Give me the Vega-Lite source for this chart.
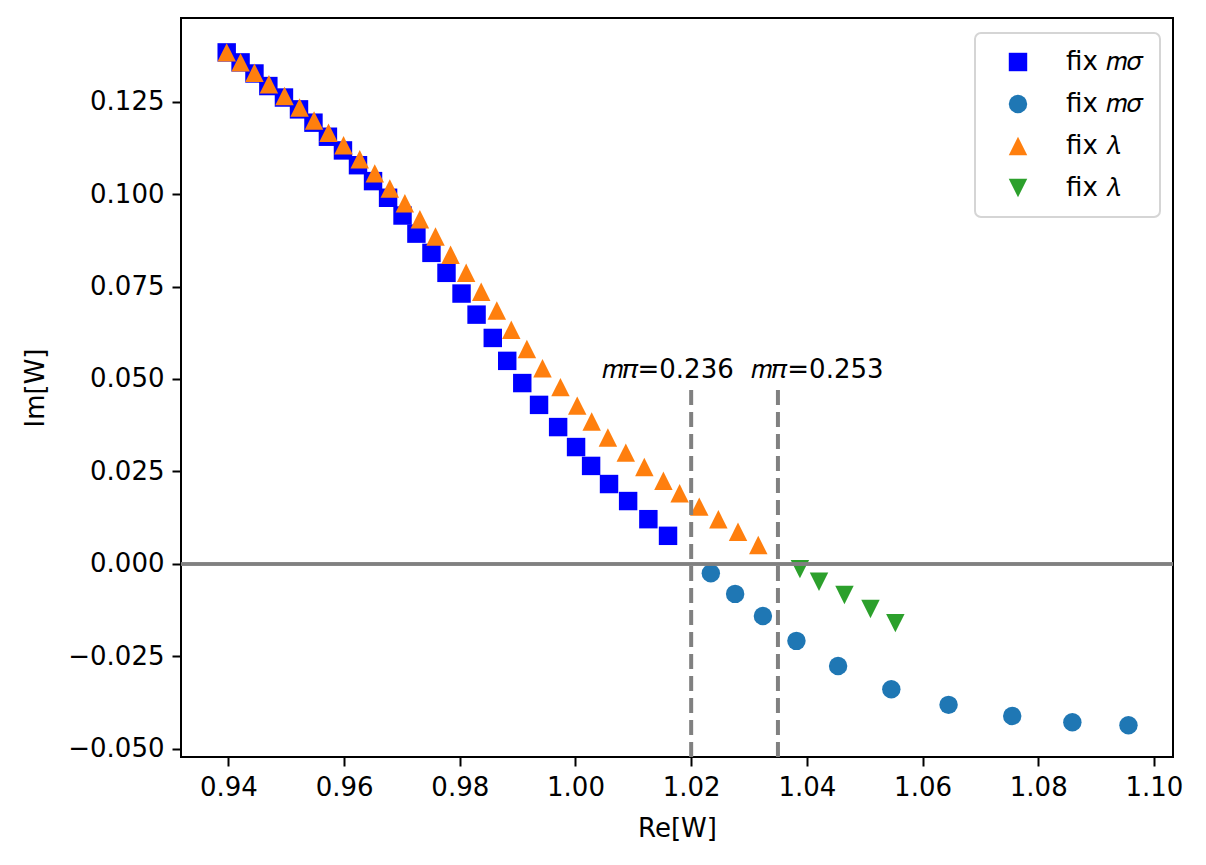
{
  "$schema": "https://vega.github.io/schema/vega-lite/v6.json",
  "width": 992,
  "height": 739,
  "autosize": {"type": "none"},
  "padding": {"left": 181, "top": 18, "right": 33, "bottom": 108},
  "background": "white",
  "config": {
    "font": "DejaVu Sans",
    "view": {"stroke": "black", "strokeWidth": 2},
    "legend": {"strokeWidth": 2},
    "axis": {
      "domain": false,
      "grid": false,
      "ticks": true,
      "tickColor": "black",
      "tickWidth": 2,
      "tickSize": 9,
      "labelFont": "DejaVu Sans",
      "labelFontSize": 26,
      "labelColor": "black",
      "labelPadding": 8,
      "titleFont": "DejaVu Sans",
      "titleFontSize": 26,
      "titleFontWeight": "normal",
      "titleColor": "black"
    }
  },
  "datasets": {
    "points": [
      {"re": 0.9397, "im": 0.1383, "series": "sq"},
      {"re": 0.9421, "im": 0.1356, "series": "sq"},
      {"re": 0.9445, "im": 0.1326, "series": "sq"},
      {"re": 0.9469, "im": 0.1292, "series": "sq"},
      {"re": 0.9496, "im": 0.1261, "series": "sq"},
      {"re": 0.9522, "im": 0.1229, "series": "sq"},
      {"re": 0.9547, "im": 0.1193, "series": "sq"},
      {"re": 0.9572, "im": 0.1155, "series": "sq"},
      {"re": 0.9598, "im": 0.1118, "series": "sq"},
      {"re": 0.9624, "im": 0.1078, "series": "sq"},
      {"re": 0.9650, "im": 0.1035, "series": "sq"},
      {"re": 0.9676, "im": 0.0990, "series": "sq"},
      {"re": 0.9701, "im": 0.0942, "series": "sq"},
      {"re": 0.9725, "im": 0.0893, "series": "sq"},
      {"re": 0.9751, "im": 0.0841, "series": "sq"},
      {"re": 0.9777, "im": 0.0787, "series": "sq"},
      {"re": 0.9803, "im": 0.0731, "series": "sq"},
      {"re": 0.9829, "im": 0.0674, "series": "sq"},
      {"re": 0.9857, "im": 0.0611, "series": "sq"},
      {"re": 0.9882, "im": 0.0549, "series": "sq"},
      {"re": 0.9908, "im": 0.0489, "series": "sq"},
      {"re": 0.9937, "im": 0.0430, "series": "sq"},
      {"re": 0.9970, "im": 0.0370, "series": "sq"},
      {"re": 1.0001, "im": 0.0316, "series": "sq"},
      {"re": 1.0027, "im": 0.0265, "series": "sq"},
      {"re": 1.0058, "im": 0.0216, "series": "sq"},
      {"re": 1.0091, "im": 0.0170, "series": "sq"},
      {"re": 1.0126, "im": 0.0121, "series": "sq"},
      {"re": 1.0160, "im": 0.0076, "series": "sq"},
      {"re": 1.0234, "im": -0.0025, "series": "circ"},
      {"re": 1.0276, "im": -0.0081, "series": "circ"},
      {"re": 1.0324, "im": -0.0141, "series": "circ"},
      {"re": 1.0382, "im": -0.0208, "series": "circ"},
      {"re": 1.0454, "im": -0.0276, "series": "circ"},
      {"re": 1.0546, "im": -0.0339, "series": "circ"},
      {"re": 1.0645, "im": -0.0381, "series": "circ"},
      {"re": 1.0755, "im": -0.0411, "series": "circ"},
      {"re": 1.0859, "im": -0.0428, "series": "circ"},
      {"re": 1.0956, "im": -0.0436, "series": "circ"},
      {"re": 0.9397, "im": 0.1383, "series": "up"},
      {"re": 0.9421, "im": 0.1356, "series": "up"},
      {"re": 0.9445, "im": 0.1328, "series": "up"},
      {"re": 0.9470, "im": 0.1297, "series": "up"},
      {"re": 0.9497, "im": 0.1265, "series": "up"},
      {"re": 0.9523, "im": 0.1234, "series": "up"},
      {"re": 0.9548, "im": 0.1199, "series": "up"},
      {"re": 0.9573, "im": 0.1166, "series": "up"},
      {"re": 0.9599, "im": 0.1132, "series": "up"},
      {"re": 0.9627, "im": 0.1094, "series": "up"},
      {"re": 0.9653, "im": 0.1056, "series": "up"},
      {"re": 0.9679, "im": 0.1015, "series": "up"},
      {"re": 0.9705, "im": 0.0975, "series": "up"},
      {"re": 0.9731, "im": 0.0932, "series": "up"},
      {"re": 0.9758, "im": 0.0885, "series": "up"},
      {"re": 0.9784, "im": 0.0836, "series": "up"},
      {"re": 0.9811, "im": 0.0787, "series": "up"},
      {"re": 0.9837, "im": 0.0736, "series": "up"},
      {"re": 0.9864, "im": 0.0685, "series": "up"},
      {"re": 0.9889, "im": 0.0633, "series": "up"},
      {"re": 0.9916, "im": 0.0581, "series": "up"},
      {"re": 0.9943, "im": 0.0529, "series": "up"},
      {"re": 0.9974, "im": 0.0478, "series": "up"},
      {"re": 1.0003, "im": 0.0428, "series": "up"},
      {"re": 1.0028, "im": 0.0385, "series": "up"},
      {"re": 1.0056, "im": 0.0342, "series": "up"},
      {"re": 1.0087, "im": 0.0301, "series": "up"},
      {"re": 1.0119, "im": 0.0262, "series": "up"},
      {"re": 1.0152, "im": 0.0225, "series": "up"},
      {"re": 1.0180, "im": 0.0191, "series": "up"},
      {"re": 1.0214, "im": 0.0155, "series": "up"},
      {"re": 1.0247, "im": 0.0121, "series": "up"},
      {"re": 1.0281, "im": 0.0087, "series": "up"},
      {"re": 1.0316, "im": 0.0051, "series": "up"},
      {"re": 1.0388, "im": -0.0014, "series": "down"},
      {"re": 1.0421, "im": -0.0048, "series": "down"},
      {"re": 1.0465, "im": -0.0084, "series": "down"},
      {"re": 1.0510, "im": -0.0122, "series": "down"},
      {"re": 1.0553, "im": -0.0160, "series": "down"}
    ],
    "marks": [
      {"re": 1.02, "bottom": -0.0522, "top": 0.0472, "zero": 0, "textRe": 1.0045, "textIm": 0.0502, "label": "𝑚𝜋=0.236"},
      {"re": 1.035, "bottom": -0.0522, "top": 0.0472, "zero": 0, "textRe": 1.0304, "textIm": 0.0502, "label": "𝑚𝜋=0.253"}
    ]
  },
  "layer": [
    {
      "data": {"name": "points"},
      "mark": {"type": "point", "filled": true, "opacity": 1, "size": 340},
      "encoding": {
        "x": {
          "field": "re",
          "type": "quantitative",
          "title": "Re[W]",
          "scale": {"domain": [0.9318, 1.1033], "nice": false, "zero": false},
          "axis": {"values": [0.94, 0.96, 0.98, 1.0, 1.02, 1.04, 1.06, 1.08, 1.1], "format": ".2f", "titlePadding": 15}
        },
        "y": {
          "field": "im",
          "type": "quantitative",
          "title": "Im[W]",
          "scale": {"domain": [-0.0522, 0.1476], "nice": false, "zero": false},
          "axis": {"values": [-0.05, -0.025, 0, 0.025, 0.05, 0.075, 0.1, 0.125], "format": ".3f", "titlePadding": 19}
        },
        "color": {
          "field": "series",
          "type": "nominal",
          "scale": {
            "domain": ["sq", "circ", "up", "down"],
            "range": ["#0000ff", "#1f77b4", "#ff7f0e", "#2ca02c"]
          },
          "legend": {
            "title": null,
            "orient": "none",
            "legendX": 794,
            "legendY": 15,
            "labelExpr": "datum.label == 'sq' || datum.label == 'circ' ? 'fix 𝑚𝜎' : 'fix 𝜆'",
            "labelFont": "DejaVu Sans",
            "labelFontSize": 26,
            "labelColor": "black",
            "labelOffset": 35,
            "symbolSize": 340,
            "symbolOffset": 14,
            "symbolStrokeWidth": 0,
            "rowPadding": 16,
            "padding": 16,
            "strokeColor": "#d5d5d5",
            "cornerRadius": 6,
            "fillColor": "white"
          }
        },
        "shape": {
          "field": "series",
          "type": "nominal",
          "scale": {
            "domain": ["sq", "circ", "up", "down"],
            "range": ["square", "circle", "M0,-1L1,1L-1,1Z", "M-1,-1L1,-1L0,1Z"]
          },
          "legend": null
        }
      }
    },
    {
      "data": {"name": "marks"},
      "mark": {"type": "rule", "color": "#808080", "strokeWidth": 3.5},
      "encoding": {"y": {"field": "zero", "type": "quantitative"}}
    },
    {
      "data": {"name": "marks"},
      "mark": {"type": "rule", "color": "#808080", "strokeWidth": 4, "strokeDash": [15, 7]},
      "encoding": {
        "x": {"field": "re", "type": "quantitative"},
        "y": {"field": "bottom", "type": "quantitative"},
        "y2": {"field": "top"}
      }
    },
    {
      "data": {"name": "marks"},
      "mark": {"type": "text", "align": "left", "baseline": "alphabetic", "fontSize": 26, "color": "black", "font": "DejaVu Sans"},
      "encoding": {
        "x": {"field": "textRe", "type": "quantitative"},
        "y": {"field": "textIm", "type": "quantitative"},
        "text": {"field": "label", "type": "nominal"}
      }
    }
  ]
}
